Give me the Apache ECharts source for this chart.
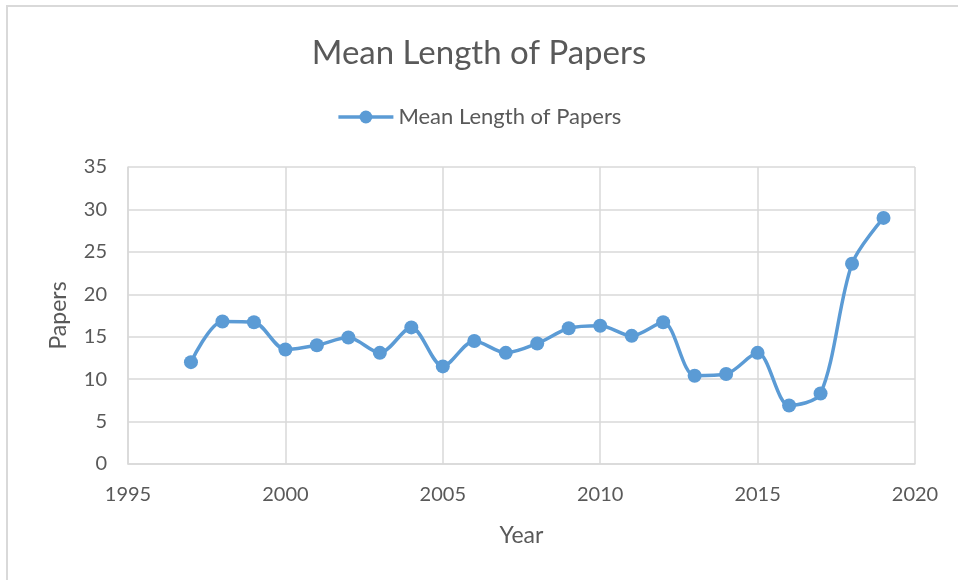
<!DOCTYPE html>
<html>
<head>
<meta charset="utf-8">
<script src="https://cdn.jsdelivr.net/npm/echarts@6/dist/echarts.min.js"></script>
<style>
  html, body { margin: 0; padding: 0; background: #fff; }
  #frame { position: absolute; left: 6px; top: 5px; width: 1000px; height: 600px;
           border-left: 2px solid #d9d9d9; border-top: 2px solid #d9d9d9; }
  #chart { position: absolute; left: 0; top: 0; width: 958px; height: 580px; }
</style>
</head>
<body>
<div id="frame"></div>
<div id="chart"></div>
<script>
  // values
  const years = [1997, 1998, 1999, 2000, 2001, 2002, 2003, 2004, 2005, 2006, 2007, 2008,
                 2009, 2010, 2011, 2012, 2013, 2014, 2015, 2016, 2017, 2018, 2019];
  const meanLength = [12.0, 16.8, 16.7, 13.5, 14.0, 14.9, 13.1, 16.1, 11.5, 14.5, 13.1, 14.2,
                      16.0, 16.3, 15.1, 16.7, 10.4, 10.6, 13.1, 6.9, 8.3, 23.6, 29.0];
  const seriesName = 'Mean Length of Papers';

  const textColor = '#595959';
  const gridColor = '#d9d9d9';
  const font = 'Lato, "Open Sans", sans-serif';

  let chart = echarts.init(document.getElementById('chart'));
  let option = {
    backgroundColor: 'transparent',
    animation: false,
    textStyle: { fontFamily: font },
    title: {
      text: 'Mean Length of Papers',
      left: 'center',
      top: 32,
      textStyle: { fontFamily: font, fontSize: 33, fontWeight: 'normal', color: textColor }
    },
    legend: {
      top: 101,
      left: 'center',
      itemWidth: 55,
      itemHeight: 16,
      itemGap: 4,
      lineStyle: { width: 3.5 },
      textStyle: { fontFamily: font, fontSize: 22, color: textColor },
      data: [seriesName]
    },
    grid: { left: 128, right: 43, top: 167, bottom: 116 },
    xAxis: {
      type: 'value',
      min: 1995,
      max: 2020,
      interval: 5,
      name: 'Year',
      nameLocation: 'middle',
      nameGap: 60,
      nameTextStyle: { fontFamily: font, fontSize: 23, color: textColor },
      axisLine: { show: true, lineStyle: { color: gridColor, width: 1.5 } },
      axisTick: { show: false },
      axisLabel: { fontFamily: font, fontSize: 20, color: textColor, margin: 21,
                   formatter: v => String(v) },
      splitLine: { show: true, lineStyle: { color: gridColor, width: 1.5 } }
    },
    yAxis: {
      type: 'value',
      min: 0,
      max: 35,
      interval: 5,
      name: 'Papers',
      nameLocation: 'middle',
      nameGap: 58,
      nameTextStyle: { fontFamily: font, fontSize: 23, color: textColor },
      axisLine: { show: true, lineStyle: { color: gridColor, width: 1.5 } },
      axisTick: { show: false },
      axisLabel: { fontFamily: font, fontSize: 20, color: textColor, margin: 21 },
      splitLine: { show: true, lineStyle: { color: gridColor, width: 1.5 } }
    },
    series: [{
      name: seriesName,
      type: 'line',
      smooth: 0.3,
      symbol: 'circle',
      symbolSize: 14,
      color: '#5b9bd5',
      lineStyle: { width: 3.5, color: '#5b9bd5' },
      itemStyle: { color: '#5b9bd5' },
      data: years.map((y, i) => [y, meanLength[i]])
    }]
  };
  chart.setOption(option);
</script>
</body>
</html>
